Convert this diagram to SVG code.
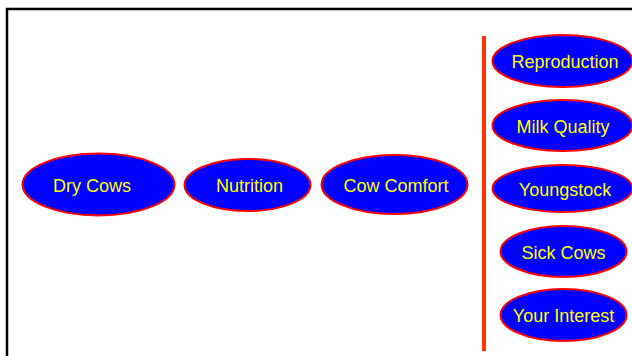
<svg xmlns="http://www.w3.org/2000/svg" width="632" height="356" viewBox="0 0 632 356">
<style>
.n ellipse{fill:#0000FF;stroke:#FF0000;stroke-width:2}
.n text{fill:#FFFF00;font-family:"Liberation Sans",Arial,sans-serif;font-size:18px;text-anchor:middle}
</style>
<rect x="0" y="0" width="632" height="356" fill="#FFFFFF"/>
<rect x="7" y="9" width="640" height="360" fill="none" stroke="#000000" stroke-width="2.5"/>
<g id="connectors">
<line x1="484" y1="36" x2="484" y2="351" stroke="#FF3300" stroke-width="4"/>
</g>
<g id="dry-cows" class="n"><ellipse cx="98.5" cy="184.5" rx="76" ry="31"/><text x="92" y="191.5">Dry Cows</text></g>
<g id="nutrition" class="n"><ellipse cx="247.5" cy="185" rx="63" ry="26"/><text x="249.5" y="192">Nutrition</text></g>
<g id="cow-comfort" class="n"><ellipse cx="394.5" cy="184.5" rx="73" ry="29.5"/><text x="396" y="191.5">Cow Comfort</text></g>
<g id="reproduction" class="n"><ellipse cx="562.5" cy="61" rx="70" ry="26"/><text x="565" y="68">Reproduction</text></g>
<g id="milk-quality" class="n"><ellipse cx="562.5" cy="125.5" rx="70" ry="25.5"/><text x="563" y="132.5">Milk Quality</text></g>
<g id="youngstock" class="n"><ellipse cx="562.5" cy="188.5" rx="70" ry="23.5"/><text x="565" y="195.5">Youngstock</text></g>
<g id="sick-cows" class="n"><ellipse cx="563.5" cy="251.5" rx="63" ry="25.5"/><text x="563.5" y="258.5">Sick Cows</text></g>
<g id="your-interest" class="n"><ellipse cx="563.5" cy="315" rx="63" ry="26"/><text x="563.5" y="322">Your Interest</text></g>
</svg>
